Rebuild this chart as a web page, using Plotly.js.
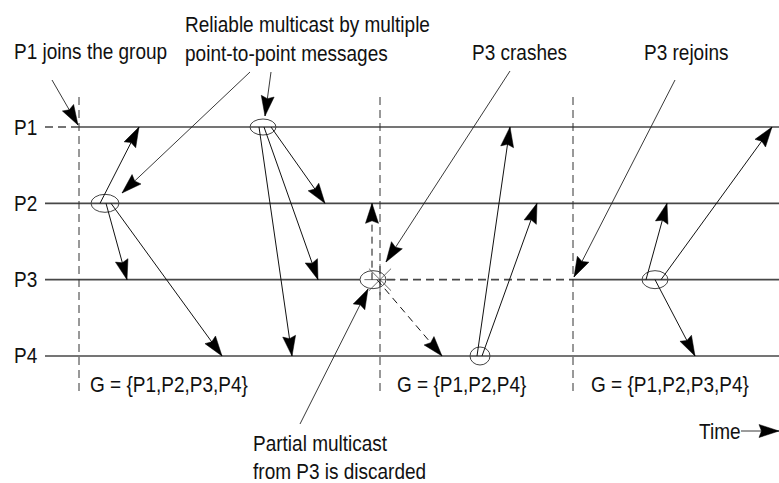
<!DOCTYPE html>
<html><head><meta charset="utf-8">
<script src="https://cdn.plot.ly/plotly-3.0.1.min.js"></script>
<style>html,body{margin:0;padding:0;background:#fff}#chart{width:779px;height:483px}</style>
</head><body><div id="chart"></div>
<script>
// ---------- data ----------
const procNames = ['P1', 'P2', 'P3', 'P4'];
const procIndex = [1, 2, 3, 4];
// timeline segments of each process (time units)
const segProc   = [1, 1, 2, 3, 3, 3, 4];
const segStart  = [45, 79, 45, 45, 387, 573, 45];
const segEnd    = [79, 779, 779, 360, 573, 779, 779];
const segDashed = [1, 0, 0, 0, 1, 0, 0];
// view changes
const viewTime   = [79, 380, 573];
const viewLabels = ['G = {P1,P2,P3,P4}', 'G = {P1,P2,P4}', 'G = {P1,P2,P3,P4}'];
// messages: send time/process -> receive time/process
const msgSendT  = [100, 106, 111, 259, 264, 271, 372, 377, 477, 482, 646, 661, 655];
const msgSendP  = [2, 2, 2, 1, 1, 1, 3, 3, 4, 4, 3, 3, 3];
const msgRecvT  = [139, 127, 222, 292, 318, 325, 372, 442, 510, 537, 667, 772, 695];
const msgRecvP  = [1, 3, 4, 4, 3, 2, 2, 4, 1, 2, 2, 1, 4];
const msgDashed = [0, 0, 0, 0, 0, 0, 1, 1, 0, 0, 0, 0, 0];
// multicast origins
const mcastT = [105, 263, 373, 480, 655];
const mcastP = [2, 1, 3, 4, 3];
// crash
const crashT = [380];
const crashP = [3];
// callout texts
const noteTexts = ['P1 joins the group', 'Reliable multicast by multiple', 'point-to-point messages',
                   'P3 crashes', 'P3 rejoins', 'Partial multicast', 'from P3 is discarded', 'Time'];

// ---------- layout / style (pixels) ----------
const W = 779, H = 483;
const Y0 = -0.664, Y1 = 5.664;
const u2py = u => (u - Y0) / (Y1 - Y0) * H;
const py2u = p => p / H * (Y1 - Y0) + Y0;
const mcastRx = [14, 13, 13, 10, 13];
const mcastRy = [9, 8, 9, 9, 9];
const noteX = [12, 183, 183, 470, 642, 251, 251, 697];
const noteY = [51, 24, 53, 52, 52, 443, 471, 431];
const procLabelX = 12;
const viewLabelX = [88, 395, 589], viewLabelY = 384;
const viewTop = 97, viewBottom = 395;
// callout pointers [fromX, fromY, toX, toY] in pixels
const pointers = [[52, 80, 78, 125], [250, 72, 122, 193], [271, 72, 265, 116],
                  [510, 71, 386, 262], [675, 80, 574, 277], [300, 424, 368, 289], [741, 431, 779, 431]];
const HEAD_L = 20, HEAD_W = 6.5, HEAD_NOTCH = 2.5, STRETCH = 1.21;

const FONT = {family: '"Liberation Sans", Arial, sans-serif', size: 19, color: '#111'};
const LINE = '#474747';

const shapes = [];
const annotations = [];

// arrowhead as filled path, tip and direction in pixels -> data coords
function head(tx, ty, dx, dy) {
  const L = Math.hypot(dx, dy), ux = dx / L, uy = dy / L, nx = -uy, ny = ux;
  const pts = [[tx, ty],
    [tx - ux * HEAD_L + nx * HEAD_W, ty - uy * HEAD_L + ny * HEAD_W],
    [tx - ux * (HEAD_L - HEAD_NOTCH), ty - uy * (HEAD_L - HEAD_NOTCH)],
    [tx - ux * HEAD_L - nx * HEAD_W, ty - uy * HEAD_L - ny * HEAD_W]];
  const path = 'M' + pts.map(p => p[0].toFixed(2) + ',' + py2u(p[1]).toFixed(4)).join(' L') + ' Z';
  shapes.push({type: 'path', xref: 'x', yref: 'y', path: path, fillcolor: '#000', line: {color: '#000', width: 0.5}});
}

// process timelines
segProc.forEach((p, i) => {
  shapes.push({type: 'line', xref: 'x', yref: 'y', x0: segStart[i], x1: segEnd[i], y0: p, y1: p,
    line: {color: LINE, width: 1.6, dash: segDashed[i] ? '8px,5px' : 'solid'}});
});
// view change lines
viewTime.forEach((t, i) => {
  shapes.push({type: 'line', xref: 'x', yref: 'y', x0: t, x1: t, y0: py2u(viewTop), y1: py2u(viewBottom),
    line: {color: '#333', width: 1, dash: '8px,5px'}});
  annotations.push({xref: 'x', yref: 'y', x: viewLabelX[i], y: py2u(viewLabelY), text: viewLabels[i],
    showarrow: false, xanchor: 'left', yanchor: 'middle', font: FONT});
});
// multicast ellipses
mcastT.forEach((t, i) => {
  const ry = mcastRy[i] / H * (Y1 - Y0);
  shapes.push({type: 'circle', xref: 'x', yref: 'y', x0: t - mcastRx[i], x1: t + mcastRx[i],
    y0: mcastP[i] - ry, y1: mcastP[i] + ry, line: {color: '#444', width: 1}});
});
// messages
msgSendT.forEach((t, i) => {
  shapes.push({type: 'line', xref: 'x', yref: 'y', x0: t, y0: msgSendP[i], x1: msgRecvT[i], y1: msgRecvP[i],
    line: {color: '#111', width: 1, dash: msgDashed[i] ? '7px,5px' : 'solid'}});
  head(msgRecvT[i], u2py(msgRecvP[i]), msgRecvT[i] - t, u2py(msgRecvP[i]) - u2py(msgSendP[i]));
});
// process labels
procNames.forEach((n, i) => {
  annotations.push({xref: 'x', yref: 'y', x: procLabelX, y: procIndex[i], text: n, showarrow: false,
    xanchor: 'left', yanchor: 'middle', font: FONT});
});
// callout texts
noteTexts.forEach((n, i) => {
  annotations.push({xref: 'x', yref: 'y', x: noteX[i], y: py2u(noteY[i]), text: n, showarrow: false,
    xanchor: 'left', yanchor: 'middle', font: FONT});
});
// callout pointers
pointers.forEach(p => {
  shapes.push({type: 'line', xref: 'x', yref: 'y', x0: p[0], y0: py2u(p[1]), x1: p[2], y1: py2u(p[3]),
    line: {color: '#222', width: 0.9}});
  head(p[2], p[3], p[2] - p[0], p[3] - p[1]);
});

const traces = [{
  type: 'scatter', mode: 'markers', x: crashT, y: crashP, hoverinfo: 'skip', showlegend: false,
  marker: {symbol: 'asterisk-open', size: 26, color: '#444', line: {color: '#444', width: 0.8}}
}];

Plotly.newPlot('chart', traces, {
  width: W, height: H, margin: {l: 0, r: 0, t: 0, b: 0},
  paper_bgcolor: '#fff', plot_bgcolor: '#fff', showlegend: false,
  xaxis: {range: [0, W], visible: false, fixedrange: true},
  yaxis: {range: [Y1, Y0], visible: false, fixedrange: true},
  shapes: shapes, annotations: annotations
}, {displayModeBar: false, staticPlot: true}).then(gd => {
  // the original uses a condensed face: stretch glyphs vertically about their centre
  gd.querySelectorAll('text.annotation-text').forEach(t => {
    const b = t.getBBox();
    const cy = b.y + b.height / 2;
    t.setAttribute('transform', `translate(0,${cy.toFixed(2)}) scale(1,${STRETCH}) translate(0,${(-cy).toFixed(2)})`);
  });
});
</script></body></html>
